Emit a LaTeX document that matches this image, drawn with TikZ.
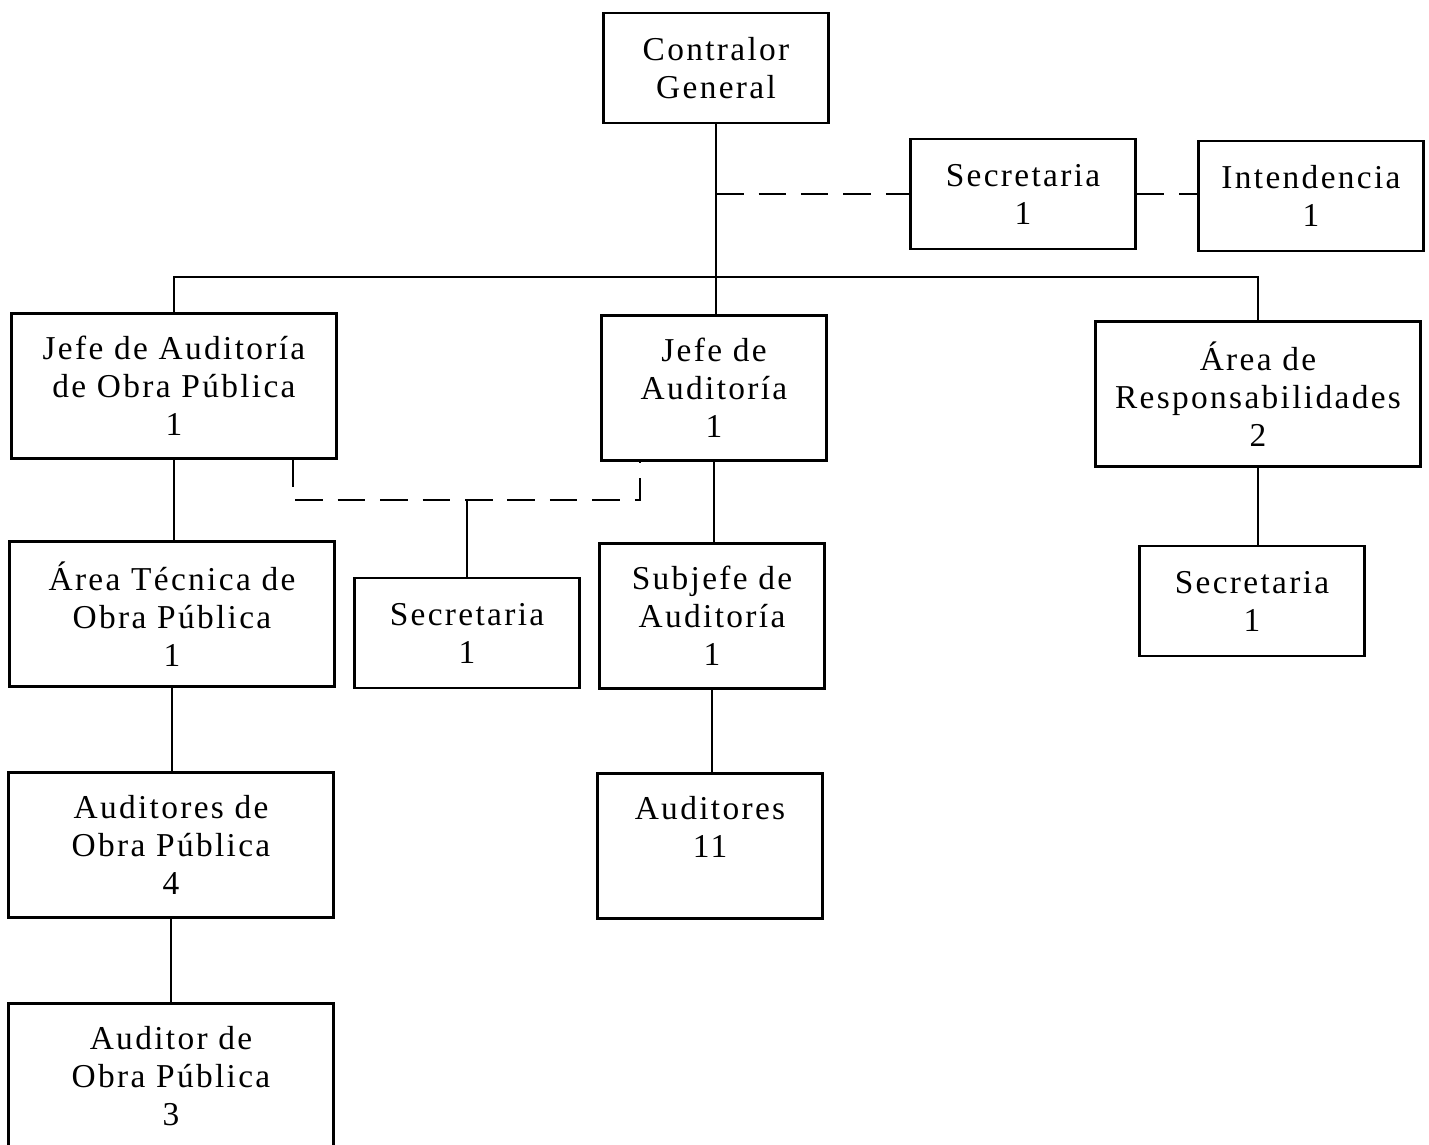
\documentclass[tikz,border=0pt]{standalone}
\usepackage{fontspec}
\setmainfont{Liberation Serif}[LetterSpace=7]

\begin{document}
\begin{tikzpicture}[x=0.02cm, y=-0.02cm]
            % Styles
            \tikzstyle{box} = [rectangle, draw, line width=1.2pt, align=center, inner sep=0pt, font=\fontsize{19}{21.6}\selectfont]
            \tikzstyle{big} = [box, minimum width=6.5cm, minimum height=2.9cm]
            \tikzstyle{mid} = [box, minimum width=4.5cm, minimum height=2.9cm]
            \tikzstyle{small} = [box, minimum width=4.5cm, minimum height=2.2cm]
            \tikzstyle{link} = [line width=1.2pt]
            \tikzstyle{dashline} = [link, dash pattern=on 0.55cm off 0.3cm]

            \useasboundingbox (0,0) rectangle (1429,1145);

            % Nodes
            \node[small] (cg) at (716,68) {Contralor\\General};
            \node[small] (sec) at (1023,194) {Secretaria\\1};
            \node[small] (int) at (1311,196) {Intendencia\\1};
            \node[big] (jop) at (174,386) {Jefe de Auditoría\\de Obra Pública\\1};
            \node[mid] (jaud) at (714,388) {Jefe de\\Auditoría\\1};
            \node[big] (resp) at (1258,394) {Área de\\Responsabilidades\\2};
            \node[big] (tec) at (172,614) {Área Técnica de\\Obra Pública\\1};
            \node[small] (secj) at (467,633) {Secretaria\\1};
            \node[mid] (sub) at (712,616) {Subjefe de\\Auditoría\\1};
            \node[small] (secr) at (1252,601) {Secretaria\\1};
            \node[big] (aop) at (171,845) {Auditores de\\Obra Pública\\4};
            \node[mid] (aud) at (710,846) {Auditores\\11\\\mbox{}};
            \node[big] (aup) at (171,1076) {Auditor de\\Obra Pública\\3};

            % Junctions
            \coordinate (bus) at (716,277);
            \coordinate (dl) at (293,500);
            \coordinate (dr) at (640,500);

            % Lines
            \draw[link] (cg.south) -- (cg.south |- jaud.north);
            \draw[link] (jop.north) -- (jop.north |- bus) -- (resp.north |- bus) -- (resp.north);
            \draw[dashline] (cg.south |- sec.west) -- (sec.west);
            \draw[dashline] (sec.east) -- (sec.east -| int.west);
            \draw[link] (jop.south) -- (jop.south |- tec.north);
            \draw[dashline] (jop.south -| dl) -- (dl) -- (dr) -- (jaud.south -| dr);
            \draw[link] (secj.north) -- (secj.north |- dl);
            \draw[link] (jaud.south) -- (jaud.south |- sub.north);
            \draw[link] (resp.south) -- (resp.south |- secr.north);
            \draw[link] (tec.south) -- (tec.south |- aop.north);
            \draw[link] (sub.south) -- (sub.south |- aud.north);
            \draw[link] (aop.south) -- (aop.south |- aup.north);
        \end{tikzpicture}
\end{document}
